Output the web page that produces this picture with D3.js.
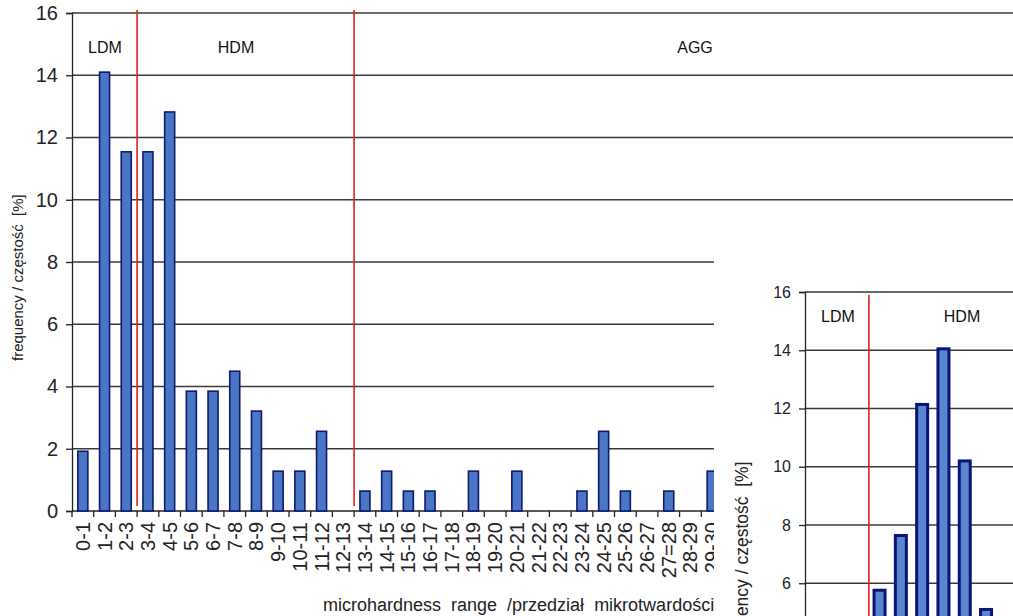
<!DOCTYPE html>
<html>
<head>
<meta charset="utf-8">
<script src="https://cdn.jsdelivr.net/npm/d3@7"></script>
<style>
  html, body { margin: 0; padding: 0; background: #fff; }
  svg { display: block; font-family: Arial, "Liberation Sans", sans-serif; }
  .pre { white-space: pre; }
</style>
</head>
<body>
<svg id="chart" width="1013" height="616"></svg>
<script>
// Main histogram: microhardness ranges and frequency [%]
const mainCategories = ["0-1","1-2","2-3","3-4","4-5","5-6","6-7","7-8","8-9","9-10",
  "10-11","11-12","12-13","13-14","14-15","15-16","16-17","17-18","18-19","19-20",
  "20-21","21-22","22-23","23-24","24-25","25-26","26-27","27=28","28-29","29-30"];
const mainValues = [1.92, 14.10, 11.54, 11.54, 12.82, 3.85, 3.85, 4.49, 3.21, 1.28,
  1.28, 2.56, 0, 0.64, 1.28, 0.64, 0.64, 0, 1.28, 0,
  1.28, 0, 0, 0.64, 2.56, 0.64, 0, 0.64, 0, 1.28];
const yTicks = [0, 2, 4, 6, 8, 10, 12, 14, 16];
// Zone boundaries (first category of each new zone)
const mainZoneStarts = ["3-4", "13-14"];
const mainZones = ["LDM", "HDM", "AGG"];

// Second histogram (partially visible panel)
const insetCategories = ["0-1","1-2","2-3","3-4","4-5","5-6","6-7","7-8","8-9"];
const insetValues = [0, 0, 0, 5.76, 7.64, 12.14, 14.05, 10.2, 5.1];
const insetYTicks = [6, 8, 10, 12, 14, 16];
const insetZoneStarts = ["3-4"];
const insetZones = ["LDM", "HDM"];

const yTitle = "frequency / częstość  [%]";
const xTitle = "microhardness  range  /przedział  mikrotwardości";

const svg = d3.select("#chart");
const gridColor = "#3a3a3a";
const axisColor = "#222";

// ---------- main chart ----------
const M = { left: 72, top: 13, bottom: 511, right: 1040, step: 21.7 };
const x = d3.scaleBand().domain(mainCategories)
  .range([M.left, M.left + M.step * mainCategories.length]).padding(0);
const y = d3.scaleLinear().domain([0, 16]).range([M.bottom, M.top]);
const barW = 10;

const main = svg.append("g");

// horizontal gridlines
main.selectAll("line.grid").data(yTicks.filter(d => d > 0)).join("line")
  .attr("x1", M.left).attr("x2", M.right)
  .attr("y1", d => y(d)).attr("y2", d => y(d))
  .attr("stroke", gridColor).attr("stroke-width", 1.3);

// y axis
const yAxis = main.append("g").attr("transform", `translate(${M.left},0)`)
  .call(d3.axisLeft(y).tickValues(yTicks).tickSize(6).tickPadding(8));
yAxis.select(".domain").attr("stroke", axisColor).attr("stroke-width", 1.3);
yAxis.selectAll(".tick line").attr("stroke", axisColor).attr("stroke-width", 1.3);
yAxis.selectAll(".tick text").attr("font-size", 20).attr("fill", axisColor)
  .attr("font-family", "Arial, 'Liberation Sans', sans-serif");

// x axis line and boundary ticks
main.append("line").attr("x1", M.left).attr("x2", M.right)
  .attr("y1", y(0)).attr("y2", y(0)).attr("stroke", axisColor).attr("stroke-width", 1.3);
main.selectAll("line.xt").data(d3.range(mainCategories.length + 1)).join("line")
  .attr("x1", i => M.left + i * x.step()).attr("x2", i => M.left + i * x.step())
  .attr("y1", y(0)).attr("y2", y(0) + 6)
  .attr("stroke", axisColor).attr("stroke-width", 1.3);

// bars
main.selectAll("rect.bar").data(mainCategories.map((c, i) => ({ c, v: mainValues[i] })).filter(d => d.v > 0))
  .join("rect")
  .attr("x", d => x(d.c) + (x.bandwidth() - barW) / 2)
  .attr("y", d => y(d.v))
  .attr("width", barW)
  .attr("height", d => y(0) - y(d.v))
  .attr("fill", "#4a76c6").attr("stroke", "#0d1a6e").attr("stroke-width", 1.6);

// rotated category labels
main.selectAll("text.xl").data(mainCategories).join("text")
  .attr("transform", d => `translate(${x(d) + x.bandwidth() / 2 + 7},${y(0) + 11}) rotate(-90)`)
  .attr("text-anchor", "end").attr("font-size", 20).attr("fill", axisColor)
  .text(d => d);

// zone separators
main.selectAll("line.zone").data(mainZoneStarts).join("line")
  .attr("x1", d => x(d)).attr("x2", d => x(d))
  .attr("y1", 10).attr("y2", 506)
  .attr("stroke", "#e02020").attr("stroke-width", 1.6);

// zone labels
const mainZoneX = [105, 236, 695];
main.selectAll("text.zl").data(mainZones).join("text")
  .attr("x", (d, i) => mainZoneX[i]).attr("y", 53)
  .attr("text-anchor", "middle").attr("font-size", 16).attr("fill", "#111")
  .text(d => d);

// axis titles
main.append("text").attr("class", "pre")
  .attr("transform", `translate(23,361) rotate(-90)`)
  .attr("text-anchor", "start").attr("font-size", 15).attr("fill", axisColor)
  .text(yTitle);

main.append("text").attr("class", "pre")
  .attr("x", 323).attr("y", 611)
  .attr("text-anchor", "start").attr("font-size", 18).attr("fill", axisColor)
  .text(xTitle);

// ---------- second panel ----------
const I = { left: 805, top: 292, zero: 758, right: 1040, step: 21.3, bg: [714, 258] };
const inset = svg.append("g");
inset.append("rect").attr("x", I.bg[0]).attr("y", I.bg[1])
  .attr("width", 1013 - I.bg[0] + 10).attr("height", 616 - I.bg[1] + 10)
  .attr("fill", "#fff");

const xi = d3.scaleBand().domain(insetCategories)
  .range([I.left, I.left + I.step * insetCategories.length]).padding(0);
const yi = d3.scaleLinear().domain([0, 16]).range([I.zero, I.top]);

inset.selectAll("line.grid").data(insetYTicks).join("line")
  .attr("x1", I.left).attr("x2", I.right)
  .attr("y1", d => yi(d)).attr("y2", d => yi(d))
  .attr("stroke", gridColor).attr("stroke-width", 1.3);

const yiAxis = inset.append("g").attr("transform", `translate(${I.left},0)`)
  .call(d3.axisLeft(yi).tickValues(insetYTicks).tickSize(6).tickPadding(8));
yiAxis.select(".domain").attr("stroke", axisColor).attr("stroke-width", 1.3);
yiAxis.selectAll(".tick line").attr("stroke", axisColor).attr("stroke-width", 1.3);
yiAxis.selectAll(".tick text").attr("font-size", 16).attr("fill", axisColor)
  .attr("font-family", "Arial, 'Liberation Sans', sans-serif");

const barWi = 11;
inset.selectAll("rect.bar").data(insetCategories.map((c, i) => ({ c, v: insetValues[i] })).filter(d => d.v > 0))
  .join("rect")
  .attr("x", d => xi(d.c) + (xi.bandwidth() - barWi) / 2)
  .attr("y", d => yi(d.v))
  .attr("width", barWi)
  .attr("height", d => yi(0) - yi(d.v))
  .attr("fill", "#5a86d0").attr("stroke", "#0a1478").attr("stroke-width", 3);

inset.selectAll("line.zone").data(insetZoneStarts).join("line")
  .attr("x1", d => xi(d)).attr("x2", d => xi(d))
  .attr("y1", 295).attr("y2", 620)
  .attr("stroke", "#e02020").attr("stroke-width", 1.6);

const insetZoneX = [838, 962];
inset.selectAll("text.zl").data(insetZones).join("text")
  .attr("x", (d, i) => insetZoneX[i]).attr("y", 322)
  .attr("text-anchor", "middle").attr("font-size", 16).attr("fill", "#111")
  .text(d => d);

inset.append("text").attr("class", "pre")
  .attr("transform", `translate(748,656) rotate(-90)`)
  .attr("text-anchor", "start").attr("font-size", 17.5).attr("fill", axisColor)
  .text(yTitle);
</script>
</body>
</html>
